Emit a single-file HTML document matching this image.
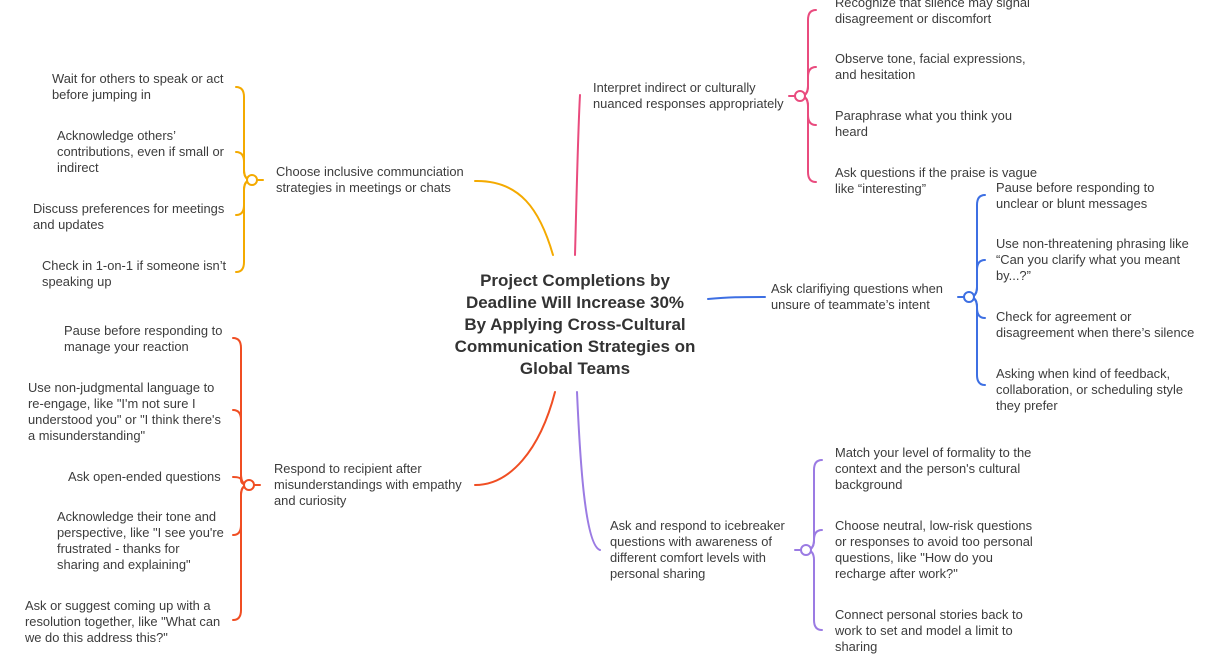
<!DOCTYPE html>
<html><head><meta charset="utf-8"><style>
body{margin:0;width:1207px;height:671px;background:#fff;overflow:hidden;position:relative;font-family:"Liberation Sans",Arial,sans-serif;}
.t{position:absolute;font-size:12.9px;line-height:16px;color:#3c3c3c;white-space:nowrap;}
.c{position:absolute;left:430px;top:270px;width:290px;text-align:center;font-weight:bold;font-size:17px;line-height:22px;color:#333;}
svg{position:absolute;left:0;top:0;}
</style></head><body>
<svg width="1207" height="671" fill="none" stroke-width="2" stroke-linecap="round">
<g stroke="#F4AA00">
<path d="M553,255 C540,210 520,180 475,181"/>
<path d="M257,180 L263,180"/>
<path d="M252,180 Q244,180 244,170 L244,97 Q244,87 236,87"/>
<path d="M252,180 Q244,180 244,170 L244,162 Q244,152 236,152"/>
<path d="M252,180 Q244,180 244,190 L244,205 Q244,215 236,215"/>
<path d="M252,180 Q244,180 244,190 L244,262 Q244,272 236,272"/>
<circle cx="252" cy="180" r="5" fill="#fff"/>
</g>
<g stroke="#E94B7E">
<path d="M575,255 C577,180 578,130 580,95"/>
<path d="M789,96 L795,96"/>
<path d="M800,96 Q808,96 808,86 L808,20 Q808,10 816,10"/>
<path d="M800,96 Q808,96 808,86 L808,77 Q808,67 816,67"/>
<path d="M800,96 Q808,96 808,106 L808,115 Q808,125 816,125"/>
<path d="M800,96 Q808,96 808,106 L808,172 Q808,182 816,182"/>
<circle cx="800" cy="96" r="5" fill="#fff"/>
</g>
<g stroke="#3D6FE3">
<path d="M708,299 C730,297 740,297 765,297"/>
<path d="M958,297 L964,297"/>
<path d="M969,297 Q977,297 977,287 L977,205 Q977,195 985,195"/>
<path d="M969,297 Q977,297 977,287 L977,270 Q977,260 985,260"/>
<path d="M969,297 Q977,297 977,307 L977,308 Q977,318 985,318"/>
<path d="M969,297 Q977,297 977,307 L977,375 Q977,385 985,385"/>
<circle cx="969" cy="297" r="5" fill="#fff"/>
</g>
<g stroke="#F04E23">
<path d="M555,392 C540,450 510,485 475,485"/>
<path d="M254,485 L260,485"/>
<path d="M249,485 Q241,485 241,475 L241,348 Q241,338 233,338"/>
<path d="M249,485 Q241,485 241,475 L241,420 Q241,410 233,410"/>
<path d="M249,485 Q241,485 241,480 Q241,477 233,477"/>
<path d="M249,485 Q241,485 241,495 L241,525 Q241,535 233,535"/>
<path d="M249,485 Q241,485 241,495 L241,610 Q241,620 233,620"/>
<circle cx="249" cy="485" r="5" fill="#fff"/>
</g>
<g stroke="#9B7BE3">
<path d="M577,392 C580,460 585,545 600,550"/>
<path d="M795,550 L801,550"/>
<path d="M806,550 Q814,550 814,540 L814,470 Q814,460 822,460"/>
<path d="M806,550 Q814,550 814,540 Q814,530 822,530"/>
<path d="M806,550 Q814,550 814,560 L814,620 Q814,630 822,630"/>
<circle cx="806" cy="550" r="5" fill="#fff"/>
</g>
</svg>

<div class="c">Project Completions by<br>Deadline Will Increase 30%<br>By Applying Cross-Cultural<br>Communication Strategies on<br>Global Teams</div>

<div class="t" style="left:276px;top:164px">Choose inclusive communciation<br>strategies in meetings or chats</div>
<div class="t" style="left:52px;top:71px">Wait for others to speak or act<br>before jumping in</div>
<div class="t" style="left:57px;top:128px">Acknowledge others’<br>contributions, even if small or<br>indirect</div>
<div class="t" style="left:33px;top:201px">Discuss preferences for meetings<br>and updates</div>
<div class="t" style="left:42px;top:258px">Check in 1-on-1 if someone isn’t<br>speaking up</div>

<div class="t" style="left:593px;top:80px">Interpret indirect or culturally<br>nuanced responses appropriately</div>
<div class="t" style="left:835px;top:-5px">Recognize that silence may signal<br>disagreement or discomfort</div>
<div class="t" style="left:835px;top:51px">Observe tone, facial expressions,<br>and hesitation</div>
<div class="t" style="left:835px;top:108px">Paraphrase what you think you<br>heard</div>
<div class="t" style="left:835px;top:165px">Ask questions if the praise is vague<br>like “interesting”</div>

<div class="t" style="left:771px;top:281px">Ask clarifiying questions when<br>unsure of teammate’s intent</div>
<div class="t" style="left:996px;top:180px">Pause before responding to<br>unclear or blunt messages</div>
<div class="t" style="left:996px;top:236px">Use non-threatening phrasing like<br>“Can you clarify what you meant<br>by...?”</div>
<div class="t" style="left:996px;top:309px">Check for agreement or<br>disagreement when there’s silence</div>
<div class="t" style="left:996px;top:366px">Asking when kind of feedback,<br>collaboration, or scheduling style<br>they prefer</div>

<div class="t" style="left:274px;top:461px">Respond to recipient after<br>misunderstandings with empathy<br>and curiosity</div>
<div class="t" style="left:64px;top:323px">Pause before responding to<br>manage your reaction</div>
<div class="t" style="left:28px;top:380px">Use non-judgmental language to<br>re-engage, like "I'm not sure I<br>understood you" or "I think there's<br>a misunderstanding"</div>
<div class="t" style="left:68px;top:469px">Ask open-ended questions</div>
<div class="t" style="left:57px;top:509px">Acknowledge their tone and<br>perspective, like "I see you're<br>frustrated - thanks for<br>sharing and explaining"</div>
<div class="t" style="left:25px;top:598px">Ask or suggest coming up with a<br>resolution together, like "What can<br>we do this address this?"</div>

<div class="t" style="left:610px;top:518px">Ask and respond to icebreaker<br>questions with awareness of<br>different comfort levels with<br>personal sharing</div>
<div class="t" style="left:835px;top:445px">Match your level of formality to the<br>context and the person's cultural<br>background</div>
<div class="t" style="left:835px;top:518px">Choose neutral, low-risk questions<br>or responses to avoid too personal<br>questions, like "How do you<br>recharge after work?"</div>
<div class="t" style="left:835px;top:607px">Connect personal stories back to<br>work to set and model a limit to<br>sharing</div>
</body></html>
